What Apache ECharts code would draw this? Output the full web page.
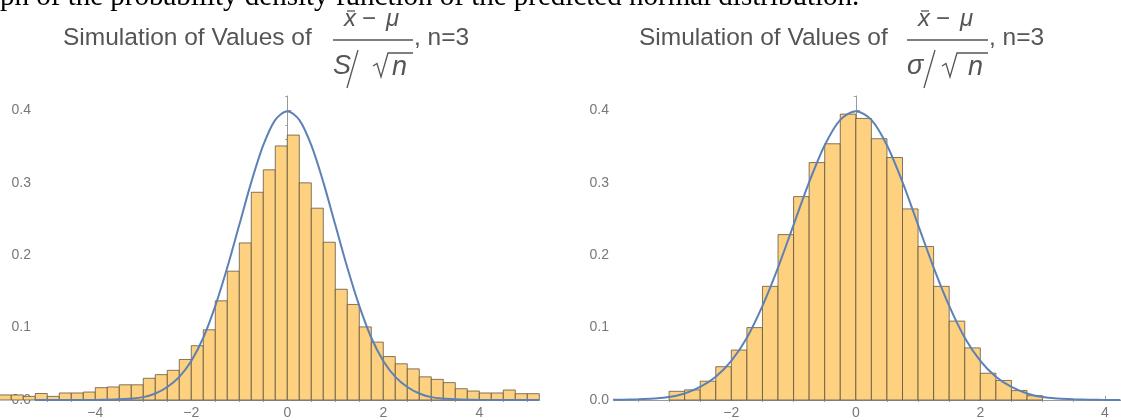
<!DOCTYPE html>
<html>
<head>
<meta charset="utf-8">
<script src="https://cdn.jsdelivr.net/npm/echarts@6/dist/echarts.min.js"></script>
<style>
  html, body { margin: 0; padding: 0; background: #fff; }
  #chart { width: 1121px; height: 420px; }
</style>
</head>
<body>
<div id="chart"></div>
<script>
// histogram bins are 0.25 wide
const binWidth = 0.25

// left panel: (xbar - mu) / (S / sqrt(n))
const leftBinStart = -6
const leftHeights = [
  0.007, 0.007, 0.005, 0.009, 0.005, 0.0097, 0.0097, 0.011,
  0.017, 0.018, 0.021, 0.021, 0.030, 0.035, 0.041, 0.056,
  0.075, 0.097, 0.137, 0.178, 0.217, 0.287, 0.318, 0.351,
  0.366, 0.300, 0.265, 0.218, 0.153, 0.132, 0.101, 0.080,
  0.060, 0.050, 0.043, 0.032, 0.0285, 0.024, 0.0156, 0.0124,
  0.0097, 0.0097, 0.0138, 0.0087, 0.0087
]

// right panel: (xbar - mu) / (sigma / sqrt(n))
const rightBinStart = -3
const rightHeights = [
  0.012, 0.014, 0.026, 0.046, 0.069, 0.100, 0.157, 0.2285,
  0.281, 0.328, 0.354, 0.395, 0.389, 0.361, 0.335, 0.264,
  0.212, 0.157, 0.109, 0.072, 0.037, 0.027, 0.013, 0.006
]

// density curve
const curveX = [
  -6, -5.75, -5.5, -5.25, -5, -4.75, -4.5, -4.25, -4, -3.75, -3.5, -3.25,
  -3, -2.75, -2.5, -2.25, -2, -1.75, -1.5, -1.25, -1, -0.75, -0.5, -0.25,
  0, 0.25, 0.5, 0.75, 1, 1.25, 1.5, 1.75, 2, 2.25, 2.5, 2.75,
  3, 3.25, 3.5, 3.75, 4, 4.25, 4.5, 4.75, 5, 5.25, 5.5, 5.75, 6
]
const curveY = [
  0, 0, 0, 0, 0, 0, 0, 0, 0.0001, 0.0004, 0.001, 0.002,
  0.004, 0.009, 0.018, 0.032, 0.054, 0.086, 0.130, 0.183, 0.242, 0.301, 0.352, 0.387,
  0.399, 0.387, 0.352, 0.301, 0.242, 0.183, 0.130, 0.086, 0.054, 0.032, 0.018, 0.009,
  0.004, 0.002, 0.001, 0.0004, 0.0001, 0, 0, 0, 0, 0, 0, 0, 0
]

const xMajor = [-4, -2, 0, 2, 4]
const xMinor = [-5.5, -5, -4.5, -3.5, -3, -2.5, -1.5, -1, -0.5, 0.5, 1, 1.5, 2.5, 3, 3.5, 4.5, 5]
const yMajor = [0, 0.1, 0.2, 0.3, 0.4]
const yMinor = [0.02, 0.04, 0.06, 0.08, 0.12, 0.14, 0.16, 0.18, 0.22, 0.24, 0.26, 0.28,
  0.32, 0.34, 0.36, 0.38, 0.42]

const barFill = '#FDD17F'
const barEdge = 'rgba(90,78,58,0.75)'
const curveColor = '#5E81B5'
const axisColor = '#9a9a9a'
const labelColor = '#777'
const titleColor = '#555'

// panel layout: axis range + where the curve is drawn
const panels = [
  { left: 36, width: 503.3, min: -5.235, max: 5.25, from: -6, to: 5.25, start: leftBinStart, heights: leftHeights },
  { left: 614, width: 507, min: -3.885, max: 4.26, from: -4.25, to: 4.26, start: rightBinStart, heights: rightHeights }
]

const chart = echarts.init(document.getElementById('chart'))

const grid = panels.map(p => ({ left: p.left, width: p.width, top: 96, bottom: 19.3, containLabel: false }))
const xAxis = []
const yAxis = []
const series = []

panels.forEach((p, i) => {
  const inRange = v => v >= p.min && v <= p.max
  xAxis.push({
    type: 'value', gridIndex: i, min: p.min, max: p.max,
    axisLine: { onZero: false, lineStyle: { color: axisColor, width: 1 } },
    axisTick: { inside: true, length: 4, customValues: xMajor.filter(inRange), lineStyle: { color: axisColor } },
    axisLabel: {
      customValues: xMajor.filter(inRange), margin: 6, color: labelColor,
      fontFamily: 'Liberation Sans', fontSize: 14,
      formatter: v => (v < 0 ? '\u2212' + Math.abs(v) : String(v))
    },
    splitLine: { show: false }
  })
  xAxis.push({
    type: 'value', gridIndex: i, min: p.min, max: p.max,
    axisLine: { show: false },
    axisTick: { inside: true, length: 2, customValues: xMinor.filter(inRange), lineStyle: { color: axisColor } },
    axisLabel: { show: false },
    splitLine: { show: false }
  })
  yAxis.push({
    type: 'value', gridIndex: i, min: 0, max: 0.42,
    axisLine: { show: true, lineStyle: { color: axisColor, width: 1 } },
    axisTick: { show: true, inside: true, length: 4, customValues: yMajor, lineStyle: { color: axisColor } },
    axisLabel: {
      customValues: yMajor, margin: 5, color: labelColor,
      fontFamily: 'Liberation Sans', fontSize: 14,
      formatter: v => v.toFixed(1)
    },
    splitLine: { show: false }
  })
  yAxis.push({
    type: 'value', gridIndex: i, min: 0, max: 0.42,
    axisLine: { show: false },
    axisTick: { show: true, inside: true, length: 2, customValues: yMinor, lineStyle: { color: axisColor } },
    axisLabel: { show: false },
    splitLine: { show: false }
  })

  series.push({
    type: 'custom', xAxisIndex: i * 2, yAxisIndex: i * 2, clip: false, z: 2,
    data: p.heights.map((h, k) => [p.start + k * binWidth, p.start + (k + 1) * binWidth, h]),
    encode: { x: [0, 1], y: 2 },
    renderItem: (params, api) => {
      const a = api.coord([api.value(0), api.value(2)])
      const b = api.coord([api.value(1), 0])
      return {
        type: 'rect',
        shape: { x: a[0], y: a[1], width: b[0] - a[0], height: b[1] - a[1] },
        style: { fill: barFill, stroke: barEdge, lineWidth: 1 }
      }
    }
  })
  series.push({
    type: 'line', xAxisIndex: i * 2, yAxisIndex: i * 2, clip: false, z: 3,
    showSymbol: false, smooth: 0.3,
    lineStyle: { color: curveColor, width: 2 },
    data: curveX.map((x, k) => [x, curveY[k]]).filter(d => d[0] >= p.from && d[0] <= p.to)
  })
})

// titles with the fraction
const font = (size, italic) => (italic ? 'italic ' : '') + size + 'px "Liberation Sans"'
const txt = (text, x, y, size, italic, align) => ({
  type: 'text', silent: true,
  style: { text, x, y, font: font(size, italic), fill: titleColor, align: align || 'left', verticalAlign: 'middle' }
})
const seg = (x1, y1, x2, y2) => ({
  type: 'line', silent: true,
  shape: { x1, y1, x2, y2 }, style: { stroke: titleColor, lineWidth: 1.3 }
})
const poly = pts => ({
  type: 'polyline', silent: true,
  shape: { points: pts }, style: { stroke: titleColor, lineWidth: 1.3, fill: null }
})

function title(x0, fx0, fx1, denomSym, slash, rad, nx) {
  return [
    txt('Simulation of Values of', x0, 38.5, 24.5),
    txt('x', fx0 + 11, 19, 24, true),
    seg(fx0 + 14, 11, fx0 + 22, 11),
    txt('\u2212', fx0 + 36, 19, 24, false, 'center'),
    txt('\u03bc', fx0 + 53, 19, 24, true),
    seg(fx0, 40, fx1, 40),
    txt(denomSym, fx0, 66.5, 27, true),
    seg(slash[0], 50, slash[1], 88),
    poly([[rad, 66], [rad + 4, 63.5], [rad + 8, 77], [rad + 15, 53], [fx1, 53]]),
    txt('n', nx, 67, 27, true),
    txt(', n=3', fx1 + 1, 38.5, 24.5)
  ]
}

chart.setOption({
  animation: false,
  backgroundColor: '#fff',
  grid, xAxis, yAxis, series,
  graphic: [
    {
      type: 'text', silent: true,
      style: {
        text: 'ph of the probability density function of the predicted normal distribution.',
        x: 0, y: -2.4, font: '29px "Liberation Serif"', fill: '#000', verticalAlign: 'middle'
      }
    },
    ...title(63, 333, 413, 'S', [358, 347], 373, 392),
    ...title(639, 907, 988, '\u03c3', [935, 924], 942, 968)
  ]
})
</script>
</body>
</html>
